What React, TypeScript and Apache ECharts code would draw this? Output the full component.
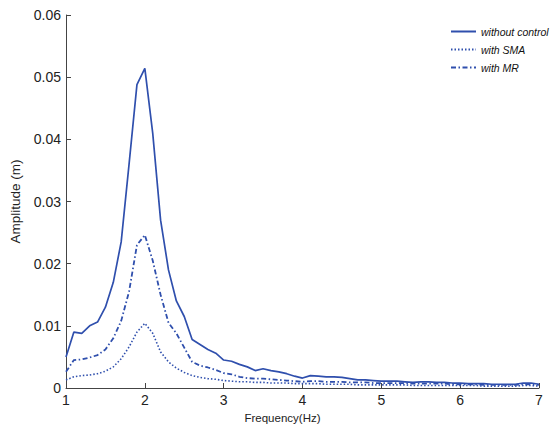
import React, { useEffect, useRef } from "react";
import * as echarts from "echarts";

const freq: number[] = [
  1.0, 1.1, 1.2, 1.3, 1.4, 1.5, 1.6, 1.7, 1.8, 1.9,
  2.0, 2.1, 2.2, 2.3, 2.4, 2.5, 2.6, 2.7, 2.8, 2.9,
  3.0, 3.1, 3.2, 3.3, 3.4, 3.5, 3.6, 3.7, 3.8, 3.9,
  4.0, 4.1, 4.2, 4.3, 4.4, 4.5, 4.6, 4.7, 4.8, 4.9,
  5.0, 5.1, 5.2, 5.3, 5.4, 5.5, 5.6, 5.7, 5.8, 5.9,
  6.0, 6.1, 6.2, 6.3, 6.4, 6.5, 6.6, 6.7, 6.8, 6.9, 7.0,
];

const withoutControl: number[] = [
  0.0050, 0.0090, 0.0088, 0.0100, 0.0106, 0.0130, 0.0170, 0.0235, 0.0360, 0.0488,
  0.0514, 0.0410, 0.0270, 0.0190, 0.0140, 0.0115, 0.0078, 0.0070, 0.0062, 0.0056,
  0.0045, 0.0043, 0.0038, 0.0034, 0.0028, 0.0031, 0.0028, 0.0026, 0.0023, 0.0019,
  0.0016, 0.0020, 0.0019, 0.0018, 0.0018, 0.0017, 0.0015, 0.0013, 0.0013, 0.0012,
  0.0011, 0.0011, 0.0011, 0.0010, 0.0009, 0.0010, 0.0010, 0.0009, 0.0009, 0.0008,
  0.0008, 0.0007, 0.0007, 0.0007, 0.0006, 0.0006, 0.0006, 0.0006, 0.0008, 0.0008, 0.0006,
];

const withSMA: number[] = [
  0.0013, 0.0018, 0.0020, 0.0021, 0.0023, 0.0027, 0.0034, 0.0047, 0.0066, 0.0090,
  0.0104, 0.0088, 0.0058, 0.0042, 0.0032, 0.0025, 0.0020, 0.0017, 0.0015, 0.0014,
  0.0012, 0.0011, 0.0010, 0.0010, 0.0009, 0.0009, 0.0008, 0.0008, 0.0008, 0.0007,
  0.0007, 0.0007, 0.0007, 0.0006, 0.0006, 0.0006, 0.0006, 0.0005, 0.0005, 0.0005,
  0.0005, 0.0005, 0.0005, 0.0005, 0.0004, 0.0004, 0.0004, 0.0004, 0.0004, 0.0004,
  0.0004, 0.0004, 0.0004, 0.0003, 0.0003, 0.0003, 0.0003, 0.0003, 0.0004, 0.0004, 0.0003,
];

const withMR: number[] = [
  0.0026, 0.0045, 0.0046, 0.0049, 0.0053, 0.0062, 0.0080, 0.0108, 0.0155, 0.0230,
  0.0246, 0.0205, 0.0150, 0.0105, 0.0088, 0.0065, 0.0042, 0.0036, 0.0033, 0.0029,
  0.0024, 0.0022, 0.0018, 0.0016, 0.0015, 0.0015, 0.0014, 0.0013, 0.0012, 0.0011,
  0.0010, 0.0011, 0.0011, 0.0010, 0.0010, 0.0010, 0.0009, 0.0009, 0.0009, 0.0008,
  0.0008, 0.0008, 0.0008, 0.0008, 0.0007, 0.0007, 0.0007, 0.0007, 0.0007, 0.0006,
  0.0006, 0.0006, 0.0006, 0.0005, 0.0005, 0.0005, 0.0005, 0.0005, 0.0006, 0.0006, 0.0005,
];

const seriesNames: string[] = ["without control", "with SMA", "with MR"];

const BLUE = "#2f4fad";
const FONT = "'Liberation Sans', Arial, sans-serif";

export default function App() {
  const ref = useRef<HTMLDivElement>(null);

  useEffect(() => {
    if (!ref.current) return;
    const chart = echarts.init(ref.current, undefined, { renderer: "svg" });
    const pairs = (vals: number[]) => freq.map((f, i) => [f, vals[i]]);
    chart.setOption({
      animation: false,
      backgroundColor: "#ffffff",
      textStyle: { fontFamily: FONT },
      grid: { left: 66, right: 17, top: 15, bottom: 42, containLabel: false },
      legend: {
        orient: "vertical",
        left: 450,
        top: 26,
        padding: 0,
        itemWidth: 25,
        itemHeight: 10,
        itemGap: 7,
        data: seriesNames,
        itemStyle: { opacity: 0 },
        textStyle: { fontFamily: FONT, fontSize: 10.5, fontStyle: "italic", color: "#111" },
      },
      xAxis: {
        type: "value",
        min: 1,
        max: 7,
        interval: 1,
        name: "Frequency(Hz)",
        nameLocation: "middle",
        nameGap: 23,
        nameTextStyle: { fontFamily: FONT, fontSize: 11.5, color: "#222", padding: [0, 40, 0, 0] },
        axisLine: { show: true, lineStyle: { color: "#444", width: 1 } },
        axisTick: { show: true, inside: true, length: 5, lineStyle: { color: "#444" } },
        axisLabel: { fontFamily: FONT, fontSize: 14, color: "#222", margin: 5 },
        splitLine: { show: false },
      },
      yAxis: {
        type: "value",
        min: 0,
        max: 0.06,
        interval: 0.01,
        name: "Amplitude (m)",
        nameLocation: "middle",
        nameGap: 42,
        nameTextStyle: { fontFamily: FONT, fontSize: 13.5, color: "#222" },
        axisLine: { show: true, lineStyle: { color: "#444", width: 1 } },
        axisTick: { show: true, inside: true, length: 5, lineStyle: { color: "#444" } },
        axisLabel: { fontFamily: FONT, fontSize: 14, color: "#222", margin: 5 },
        splitLine: { show: false },
      },
      series: [
        {
          name: seriesNames[0],
          type: "line",
          data: pairs(withoutControl),
          symbol: "none",
          lineStyle: { color: BLUE, width: 1.7, type: "solid" },
          itemStyle: { color: BLUE },
        },
        {
          name: seriesNames[1],
          type: "line",
          data: pairs(withSMA),
          symbol: "none",
          lineStyle: { color: BLUE, width: 1.6, type: [1.5, 2] },
          itemStyle: { color: BLUE },
        },
        {
          name: seriesNames[2],
          type: "line",
          data: pairs(withMR),
          symbol: "none",
          lineStyle: { color: BLUE, width: 1.8, type: [5, 2.5, 1.5, 2.5] },
          itemStyle: { color: BLUE },
        },
      ],
    });
    return () => chart.dispose();
  }, []);

  return (
    <div
      ref={ref}
      style={{ position: "fixed", left: 0, top: 0, width: 556, height: 430, background: "#fff" }}
    />
  );
}
